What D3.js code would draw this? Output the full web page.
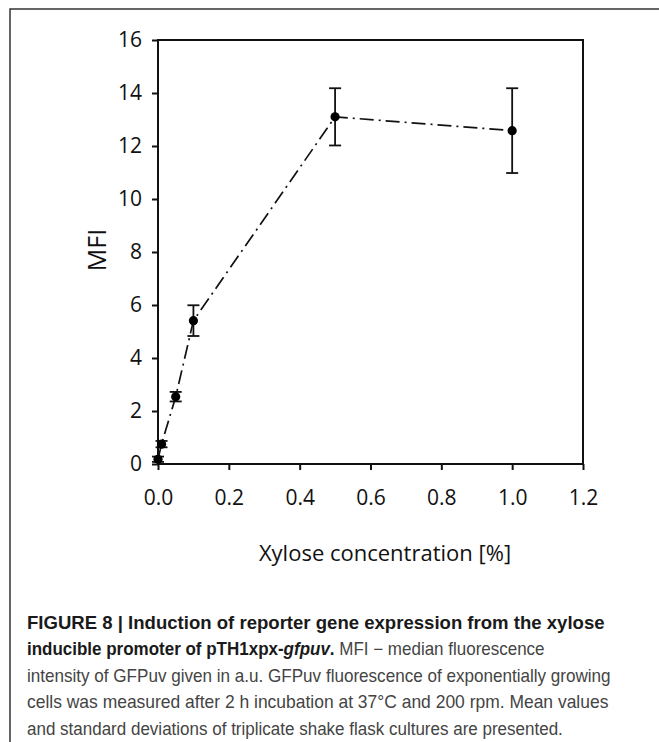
<!DOCTYPE html>
<html>
<head>
<meta charset="utf-8">
<script src="https://d3js.org/d3.v7.min.js"></script>
<style>
  body { margin: 0; background: #fff; }
</style>
</head>
<body>
<svg width="659" height="742"></svg>
<script>
// data
const xylose = [0, 0.01, 0.05, 0.1, 0.5, 1.0];
const mfi    = [0.18, 0.75, 2.54, 5.41, 13.1, 12.58];
const sd     = [0.1, 0.12, 0.18, 0.58, 1.08, 1.6];
const xTicks = [0, 0.2, 0.4, 0.6, 0.8, 1.0, 1.2];
const yTicks = [0, 2, 4, 6, 8, 10, 12, 14, 16];

const caption = [
  [{t: "FIGURE 8 | Induction of reporter gene expression from the xylose", b: true}],
  [{t: "inducible promoter of pTH1xpx-", b: true}, {t: "gfpuv", b: true, i: true}, {t: ".", b: true}, {t: " MFI \u2212 median fluorescence"}],
  [{t: "intensity of GFPuv given in a.u. GFPuv fluorescence of exponentially growing"}],
  [{t: "cells was measured after 2 h incubation at 37\u00b0C and 200 rpm. Mean values"}],
  [{t: "and standard deviations of triplicate shake flask cultures are presented."}]
];
const captionRight = [605, 545, 611, 609, 563];

const svg = d3.select("svg");

// figure frame (left + top edge)
svg.append("path").attr("d", "M10,742 L10,9 L659,9")
   .attr("fill", "none").attr("stroke", "#333").attr("stroke-width", 1.5);

const x = d3.scaleLinear().domain([0, 1.2]).range([158, 583]);
const y = d3.scaleLinear().domain([0, 16]).range([464, 40]);

const font = "'Open Sans', sans-serif";

// plot box
svg.append("rect").attr("x", x(0)).attr("y", y(16))
   .attr("width", x(1.2) - x(0)).attr("height", y(0) - y(16))
   .attr("fill", "none").attr("stroke", "#111").attr("stroke-width", 2);

const xAxis = svg.append("g").attr("transform", `translate(0,${y(0)})`)
  .call(d3.axisBottom(x).tickValues(xTicks).tickFormat(d3.format(".1f")).tickSize(6).tickPadding(20));
const yAxis = svg.append("g").attr("transform", `translate(${x(0)},0)`)
  .call(d3.axisLeft(y).tickValues(yTicks).tickSize(6).tickPadding(10));
[xAxis, yAxis].forEach(a => {
  a.select(".domain").remove();
  a.selectAll("line").attr("stroke", "#111").attr("stroke-width", 2);
  a.selectAll("text").attr("font-family", font).attr("font-size", 21).attr("fill", "#111");
});

svg.append("text").attr("x", 385).attr("y", 561).attr("text-anchor", "middle")
   .attr("font-family", font).attr("font-size", 22).attr("fill", "#111")
   .text("Xylose concentration [%]");
svg.append("text").attr("transform", "translate(106,250) rotate(-90)").attr("text-anchor", "middle")
   .attr("font-family", font).attr("font-size", 25).attr("fill", "#111")
   .text("MFI");

const pts = xylose.map((v, i) => ({x: v, y: mfi[i], e: sd[i]}));

// dash-dot line
svg.append("path").datum(pts)
   .attr("fill", "none").attr("stroke", "#111").attr("stroke-width", 1.7)
   .attr("stroke-dasharray", "14,5,2,5")
   .attr("d", d3.line().x(d => x(d.x)).y(d => y(d.y)));

// error bars
const eb = svg.append("g").attr("stroke", "#111").attr("stroke-width", 1.8);
pts.forEach(d => {
  eb.append("line").attr("x1", x(d.x)).attr("x2", x(d.x)).attr("y1", y(d.y - d.e)).attr("y2", y(d.y + d.e));
  [d.y - d.e, d.y + d.e].forEach(v => {
    eb.append("line").attr("x1", x(d.x) - 6).attr("x2", x(d.x) + 6).attr("y1", y(v)).attr("y2", y(v));
  });
});

svg.append("g").selectAll("circle").data(pts).join("circle")
   .attr("cx", d => x(d.x)).attr("cy", d => y(d.y)).attr("r", 4.6).attr("fill", "#000");

// caption
const capFont = "'Liberation Sans', Arial, sans-serif";
caption.forEach((segs, i) => {
  const t = svg.append("text").attr("x", 27).attr("y", 629 + i * 26.5)
    .attr("font-family", capFont).attr("font-size", 17.5).attr("fill", "#444");
  segs.forEach(s => {
    t.append("tspan").text(s.t)
     .attr("font-weight", s.b ? "bold" : null)
     .attr("font-style", s.i ? "italic" : null)
     .attr("fill", s.b ? "#1a1a1a" : null);
  });
  const w = t.node().getComputedTextLength();
  const sx = (captionRight[i] - 27) / w;
  t.attr("transform", `translate(27,0) scale(${sx},1) translate(-27,0)`);
});
</script>
</body>
</html>
